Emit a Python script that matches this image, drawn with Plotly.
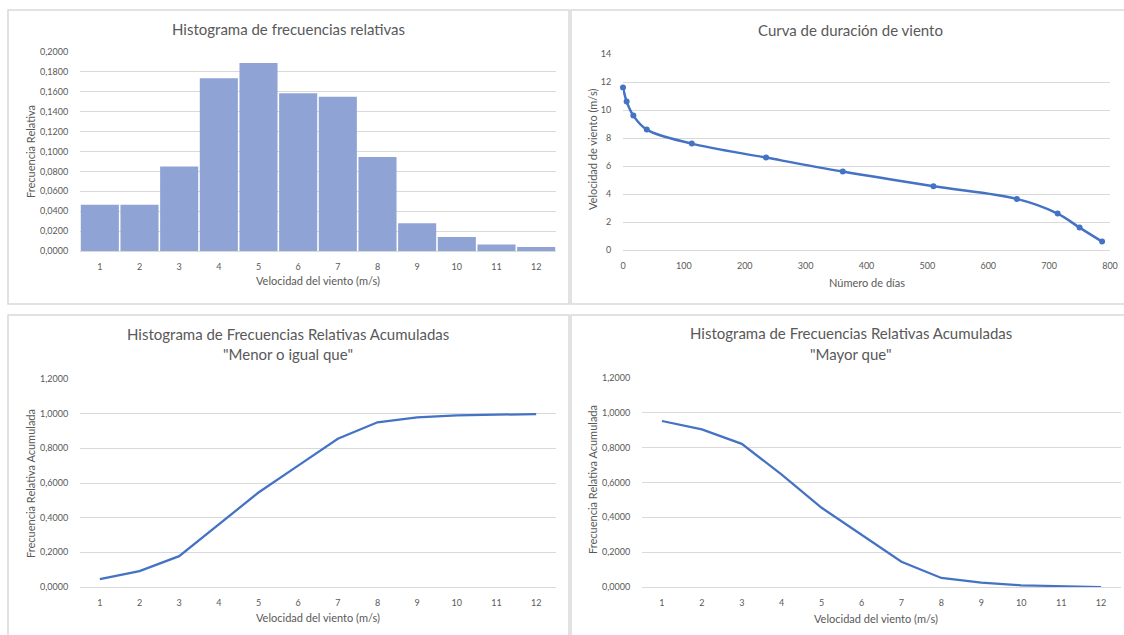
import plotly.graph_objects as go

W, H = 1124, 635

# Datos
velocidades = list(range(1, 13))
frec_relativa = [0.0465, 0.0465, 0.0850, 0.1735, 0.1890, 0.1585,
                 0.1550, 0.0945, 0.0280, 0.0140, 0.0065, 0.0040]
frec_acum_menor = [0.0450, 0.0920, 0.1780, 0.3600, 0.5450, 0.7000,
                   0.8550, 0.9500, 0.9780, 0.9900, 0.9960, 0.9980]
frec_acum_mayor = [0.9530, 0.9050, 0.8220, 0.6450, 0.4550, 0.3000,
                   0.1450, 0.0520, 0.0250, 0.0100, 0.0040, 0.0000]
dias = [0, 6, 17, 39, 113, 235, 361, 510, 647, 714, 750, 787]
vel_duracion = [11.6, 10.6, 9.6, 8.6, 7.6, 6.6, 5.6, 4.55, 3.65, 2.6, 1.6, 0.6]

AZUL = "#4472C4"
BARRA = "#8FA4D4"
GRIS_TXT = "#595959"
GRIS_LIN = "#D9D9D9"
FUENTE = "Lato"


def px(x):
    return x / W


def py(y):
    return 1 - y / H


fig = go.Figure()

# Panel 1: histograma de frecuencias relativas
fig.add_trace(go.Bar(x=velocidades, y=frec_relativa, marker_color=BARRA,
                     marker_line_width=0, xaxis="x", yaxis="y",
                     showlegend=False))
# Panel 2: curva de duración
fig.add_trace(go.Scatter(x=dias, y=vel_duracion, mode="lines+markers",
                         line=dict(color=AZUL, width=2.5, shape="spline"),
                         marker=dict(color=AZUL, size=6), cliponaxis=False,
                         xaxis="x2", yaxis="y2", showlegend=False))
# Panel 3: acumulada "menor o igual que"
fig.add_trace(go.Scatter(x=velocidades, y=frec_acum_menor, mode="lines",
                         line=dict(color=AZUL, width=2.25),
                         xaxis="x3", yaxis="y3", showlegend=False))
# Panel 4: acumulada "mayor que"
fig.add_trace(go.Scatter(x=velocidades, y=frec_acum_mayor, mode="lines",
                         line=dict(color=AZUL, width=2.25),
                         xaxis="x4", yaxis="y4", showlegend=False))

tick_font = dict(family=FUENTE, size=9, color=GRIS_TXT)


def eje_x(x0, x1, rng, anchor, **kw):
    d = dict(domain=[px(x0), px(x1)], range=rng, anchor=anchor,
             showgrid=False, zeroline=False, showline=False,
             ticks="outside", ticklen=7, tickcolor="rgba(0,0,0,0)",
             tickfont=tick_font, fixedrange=True, automargin=False)
    d.update(kw)
    return d


def eje_y(y_top, y_bot, rng, dtick, fmt, anchor):
    return dict(domain=[py(y_bot), py(y_top)], range=rng, anchor=anchor,
                dtick=dtick, tickformat=fmt, showgrid=True,
                gridcolor=GRIS_LIN, gridwidth=1, zeroline=True,
                zerolinecolor=GRIS_LIN, zerolinewidth=1, showline=False,
                ticks="outside", ticklen=9, tickcolor="rgba(0,0,0,0)",
                tickfont=tick_font, fixedrange=True, automargin=False)


fig.update_layout(
    width=W, height=H,
    margin=dict(l=0, r=0, t=0, b=0),
    paper_bgcolor="white", plot_bgcolor="white",
    separators=",.",
    bargap=0.04,
    font=dict(family=FUENTE, color=GRIS_TXT),
    xaxis=eje_x(80, 556, [0.5, 12.5], "y", tickvals=velocidades),
    yaxis=eje_y(52, 251, [0, 0.2], 0.02, ".4f", "x"),
    xaxis2=eje_x(623, 1110, [0, 800], "y2", dtick=100),
    yaxis2=eje_y(54, 250, [0, 14], 2, "d", "x2"),
    xaxis3=eje_x(80, 556, [0.5, 12.5], "y3", tickvals=velocidades),
    yaxis3=eje_y(379, 587, [0, 1.2], 0.2, ".4f", "x3"),
    xaxis4=eje_x(642, 1121, [0.5, 12.5], "y4", tickvals=velocidades),
    yaxis4=eje_y(378, 587, [0, 1.2], 0.2, ".4f", "x4"),
)

# Marcos de cada gráfico
marcos = [(8, 10, 569, 304), (571, 10, 1130, 304),
          (8, 315, 569, 640), (571, 315, 1130, 640)]
for x0, y0, x1, y1 in marcos:
    fig.add_shape(type="rect", xref="paper", yref="paper",
                  x0=px(x0), x1=px(x1), y0=py(y0), y1=py(y1),
                  line=dict(color=GRIS_LIN, width=1.5), layer="below")


def texto(x, y, s, size, angle=0):
    fig.add_annotation(x=px(x), y=py(y), xref="paper", yref="paper",
                       text=s, showarrow=False, textangle=angle,
                       xanchor="center", yanchor="middle",
                       font=dict(family=FUENTE, size=size, color=GRIS_TXT))


# Títulos
texto(288, 29, "Histograma de frecuencias relativas", 15)
texto(850, 30, "Curva de duración de viento", 15)
texto(288, 334, "Histograma de Frecuencias Relativas Acumuladas", 15)
texto(288, 354, "\"Menor o igual que\"", 15)
texto(851, 333, "Histograma de Frecuencias Relativas Acumuladas", 15)
texto(851, 354, "\"Mayor que\"", 15)

# Títulos de ejes
texto(318, 281, "Velocidad del viento (m/s)", 11)
texto(30, 152, "Frecuencia Relativa", 11, -90)
texto(867, 282, "Número de días", 11)
texto(592, 150, "Velocidad de viento (m/s)", 11, -90)
texto(318, 617, "Velocidad del viento (m/s)", 11)
texto(30, 484, "Frecuencia Relativa Acumulada", 11, -90)
texto(876, 618, "Velocidad del viento (m/s)", 11)
texto(592, 480, "Frecuencia Relativa Acumulada", 11, -90)

fig.write_html("out.html")
